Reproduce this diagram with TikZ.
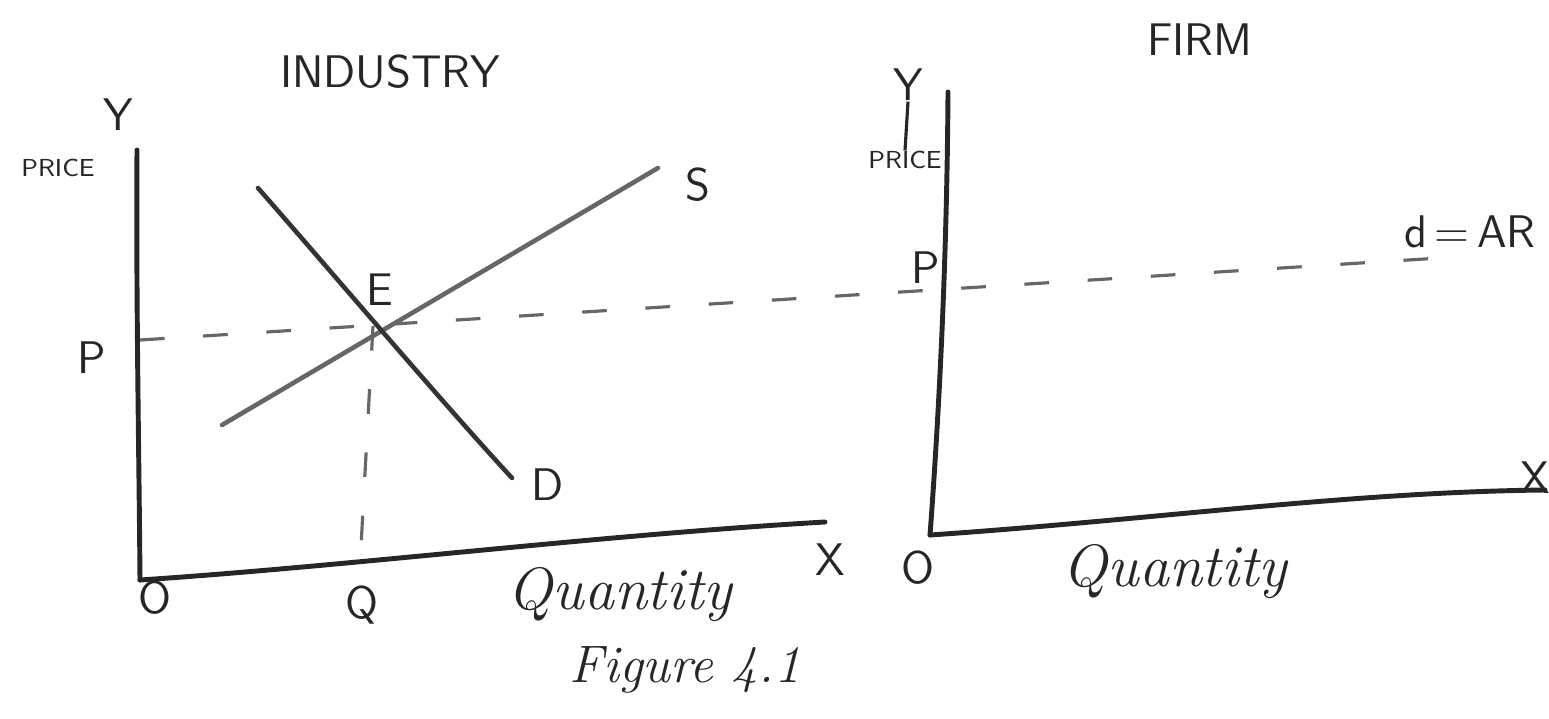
\documentclass[tikz,border=0pt]{standalone}
\begin{document}
\begin{tikzpicture}[x=0.01cm,y=-0.01cm,
  axis/.style={line width=1.4pt,draw=black!85,line cap=round},
  curve/.style={line width=1.3pt,draw=black!80,line cap=round},
  dashline/.style={line width=0.9pt,draw=black!60,dash pattern=on 7pt off 11pt},
  lab/.style={inner sep=0pt,font=\sffamily\fontsize{13}{15}\selectfont,text=black!85},
  small/.style={inner sep=0pt,font=\sffamily\fontsize{7}{8}\selectfont,text=black!85},
  cursive/.style={inner sep=0pt,font=\itshape\fontsize{17}{19}\selectfont,text=black!85}]
\useasboundingbox (0,0) rectangle (1549,718);
% ---------- Industry ----------
\coordinate (iYt) at (137,150);
\coordinate (iO) at (140,580);
\coordinate (iXe) at (825,522);
\draw[axis] (iYt) .. controls (136,300) and (139,450) .. (iO);
\draw[axis] (iO) .. controls (350,566) and (600,535) .. (iXe);
\coordinate (Sa) at (222,425);
\coordinate (Sb) at (658,168);
\coordinate (Da) at (258,188);
\coordinate (Db) at (512,478);
\draw[curve,black!60] (Sa) -- (Sb);
\draw[curve] (Da) .. controls (330,270) and (440,400) .. (Db);
\coordinate (E) at (373,326);
\coordinate (Pi) at (140,340);
\coordinate (Pf) at (1440,258);
\coordinate (Qb) at (360,565);
\draw[dashline] (Pi) -- (Pf);
\draw[dashline] (E) -- (Qb);
\node[lab] (title1) at (390,72) {INDUSTRY};
\node[lab] (Y1) at (118,115) {Y};
\node[small] (price1) at (58,168) {PRICE};
\node[lab] (S) at (698,185) {S};
\node[lab] (D) at (548,485) {D};
\node[lab] (Elab) at (380,290) {E};
\node[lab] (P1) at (92,358) {P};
\node[lab] (O1) at (155,598) {O};
\node[lab] (Q) at (362,605) {Q};
\node[lab] (X1) at (830,560) {X};
\node[cursive] (qty1) at (620,595) {Quantity};
\node[cursive,font=\itshape\fontsize{15}{17}\selectfont] (fig) at (685,670) {Figure 4.1};
% ---------- Firm ----------
\coordinate (fYt) at (948,92);
\coordinate (fO) at (930,535);
\coordinate (fXe) at (1545,490);
\draw[axis] (fYt) .. controls (947,250) and (940,400) .. (fO);
\draw[axis] (fO) .. controls (1150,520) and (1350,492) .. (fXe);
\node[lab] (title2) at (1200,40) {FIRM};
\node[lab] (Y2) at (908,85) {Y};
\node[small] (price2) at (905,160) {PRICE};
\draw[line width=0.9pt,black!85] (Y2.south) -- (price2.north);
\node[lab] (P2) at (926,268) {P};
\node[lab] (dAR) at (1470,232) {d\,=\,AR};
\node[lab] (O2) at (918,568) {O};
\node[lab] (X2) at (1535,478) {X};
\node[cursive] (qty2) at (1175,572) {Quantity};
\end{tikzpicture}
\end{document}
